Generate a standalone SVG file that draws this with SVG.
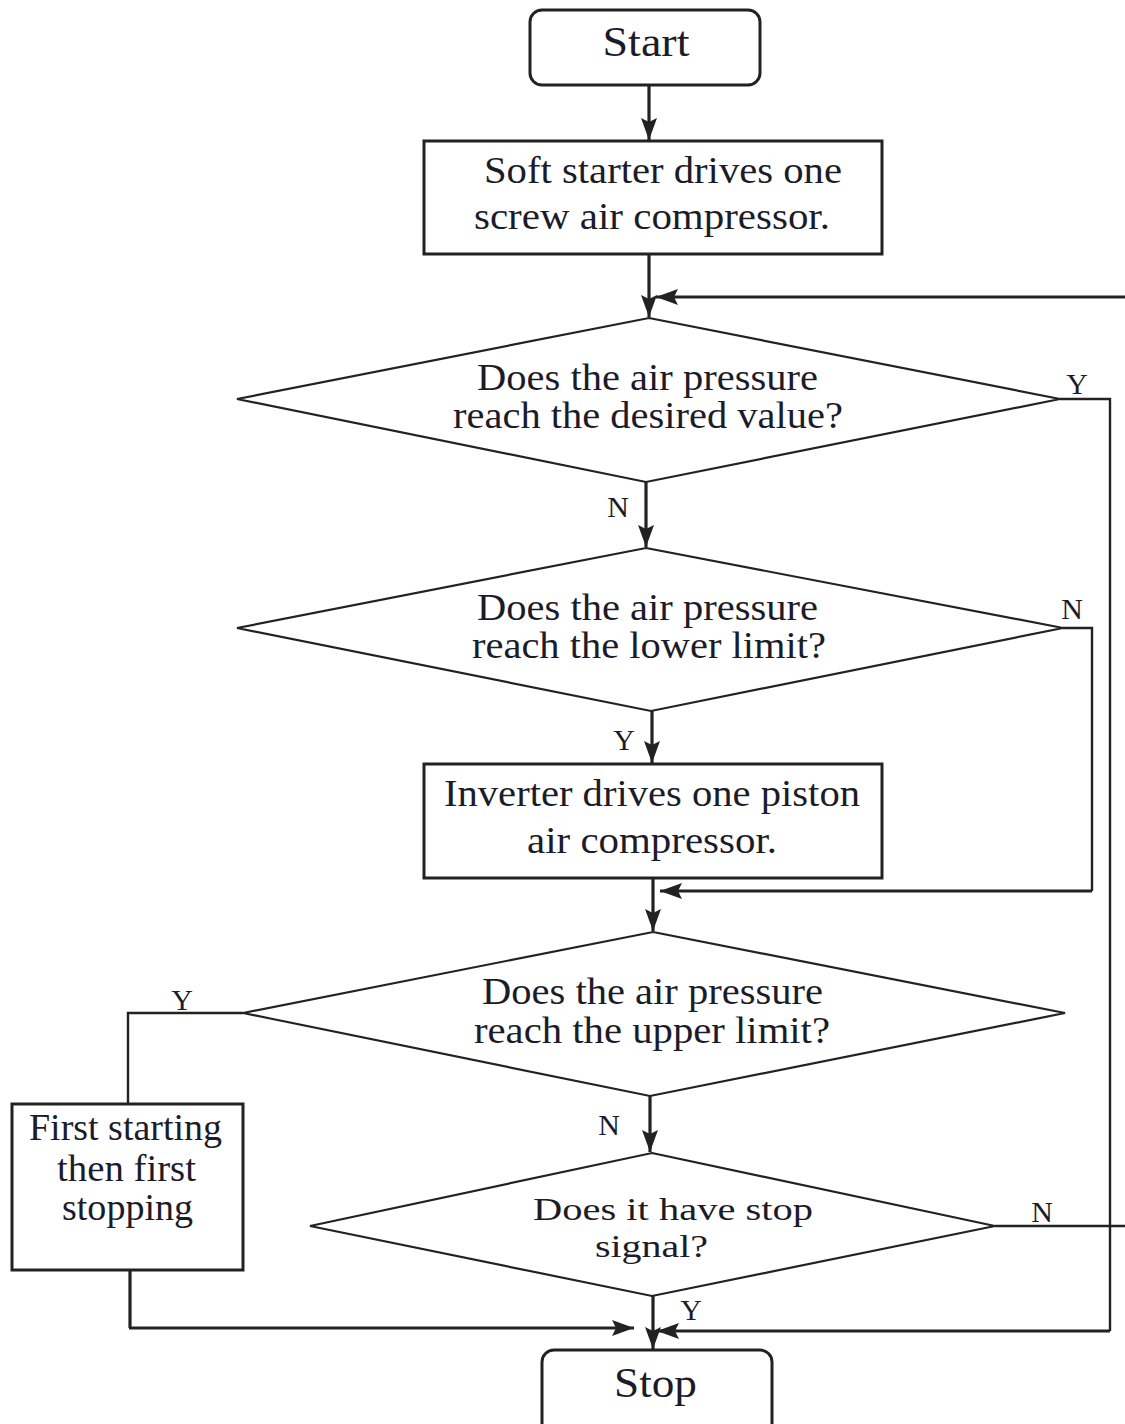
<svg xmlns="http://www.w3.org/2000/svg" width="1125" height="1424" viewBox="0 0 1125 1424">
<style>
.box{fill:#fff;stroke:#222;stroke-width:3}
.dia{fill:#fff;stroke:#222;stroke-width:2.2}
.t{font-family:"Liberation Serif","Times New Roman",serif;font-size:38px;fill:#1c1c28;text-anchor:middle}
.tb{font-size:42px}
.ts{font-size:32px}
.lb{font-family:"Liberation Serif","Times New Roman",serif;font-size:30px;fill:#1c1c28;text-anchor:middle}
.c{fill:none;stroke:#222;stroke-width:3.2}
.c2{fill:none;stroke:#222;stroke-width:2.4}
</style>
<defs>
<marker id="ah" viewBox="0 0 22 16" refX="22" refY="8" markerWidth="22" markerHeight="16" markerUnits="userSpaceOnUse" orient="auto"><path d="M0,0 L22,8 L0,16 L4,8 z" fill="#222"/></marker>
</defs>
<rect width="1125" height="1424" fill="#fff"/>
<g id="connectors">
<line class="c" x1="649" y1="85" x2="649" y2="140" marker-end="url(#ah)"/>
<line class="c" x1="649" y1="254" x2="649" y2="317" marker-end="url(#ah)"/>
<line class="c" x1="1125" y1="297" x2="656" y2="297" marker-end="url(#ah)"/>
<polyline class="c2" points="1060,399 1110,399 1110,1331"/>
<line class="c" x1="1110" y1="1331" x2="657" y2="1331" marker-end="url(#ah)"/>
<line class="c" x1="646" y1="482" x2="646" y2="547" marker-end="url(#ah)"/>
<polyline class="c2" points="1063,628 1092,628 1092,891"/>
<line class="c" x1="1092" y1="891" x2="660" y2="891" marker-end="url(#ah)"/>
<line class="c" x1="652" y1="711" x2="652" y2="763" marker-end="url(#ah)"/>
<line class="c" x1="653" y1="878" x2="653" y2="931" marker-end="url(#ah)"/>
<polyline class="c2" points="243,1013 128,1013 128,1104"/>
<polyline class="c" points="130,1270 130,1328"/>
<line class="c" x1="129" y1="1328" x2="634" y2="1328" marker-end="url(#ah)"/>
<line class="c" x1="650" y1="1096" x2="650" y2="1152" marker-end="url(#ah)"/>
<line class="c2" x1="995" y1="1226" x2="1125" y2="1226"/>
<line class="c" x1="653" y1="1296" x2="653" y2="1349" marker-end="url(#ah)"/>
<text class="lb" x="1077" y="394">Y</text>
<text class="lb" x="618" y="517">N</text>
<text class="lb" x="1072" y="619">N</text>
<text class="lb" x="624" y="750">Y</text>
<text class="lb" x="182" y="1010">Y</text>
<text class="lb" x="609" y="1135">N</text>
<text class="lb" x="1042" y="1222">N</text>
<text class="lb" x="691" y="1320">Y</text>
</g>
<g id="start">
<rect class="box" x="530" y="10" width="230" height="75" rx="12"/>
<text class="t tb" x="646" y="56" textLength="87" lengthAdjust="spacingAndGlyphs">Start</text>
</g>
<g id="soft-starter">
<rect class="box" x="424" y="141" width="458" height="113"/>
<text class="t" x="663" y="183" textLength="358" lengthAdjust="spacingAndGlyphs">Soft starter drives one</text>
<text class="t" x="652" y="229" textLength="356" lengthAdjust="spacingAndGlyphs">screw air compressor.</text>
</g>
<g id="desired-value">
<polygon class="dia" points="649,318 1060,399 646,482 237,399"/>
<text class="t" x="647.5" y="390" textLength="341" lengthAdjust="spacingAndGlyphs">Does the air pressure</text>
<text class="t" x="648" y="428" textLength="390" lengthAdjust="spacingAndGlyphs">reach the desired value?</text>
</g>
<g id="lower-limit">
<polygon class="dia" points="646,548 1063,628 651,711 237,628"/>
<text class="t" x="647.5" y="620" textLength="341" lengthAdjust="spacingAndGlyphs">Does the air pressure</text>
<text class="t" x="649" y="658" textLength="354" lengthAdjust="spacingAndGlyphs">reach the lower limit?</text>
</g>
<g id="inverter">
<rect class="box" x="424" y="764" width="458" height="114"/>
<text class="t" x="652" y="806" textLength="416" lengthAdjust="spacingAndGlyphs">Inverter drives one piston</text>
<text class="t" x="652" y="853" textLength="250" lengthAdjust="spacingAndGlyphs">air compressor.</text>
</g>
<g id="upper-limit">
<polygon class="dia" points="653,932 1065,1013 650,1096 243,1013"/>
<text class="t" x="652.5" y="1004" textLength="341" lengthAdjust="spacingAndGlyphs">Does the air pressure</text>
<text class="t" x="652" y="1043" textLength="356" lengthAdjust="spacingAndGlyphs">reach the upper limit?</text>
</g>
<g id="first-start-first-stop">
<rect class="box" x="12" y="1104" width="231" height="166"/>
<text class="t" x="125.5" y="1140" textLength="193" lengthAdjust="spacingAndGlyphs">First starting</text>
<text class="t" x="126.5" y="1181" textLength="139" lengthAdjust="spacingAndGlyphs">then first</text>
<text class="t" x="127.5" y="1220" textLength="131" lengthAdjust="spacingAndGlyphs">stopping</text>
</g>
<g id="stop-signal">
<polygon class="dia" points="652,1153 995,1226 652,1296 310,1226"/>
<text class="t ts" x="673" y="1220" textLength="280" lengthAdjust="spacingAndGlyphs">Does it have stop</text>
<text class="t ts" x="651.5" y="1257" textLength="113" lengthAdjust="spacingAndGlyphs">signal?</text>
</g>
<g id="stop">
<rect class="box" x="542" y="1350" width="230" height="85" rx="12"/>
<text class="t tb" x="655.5" y="1397" textLength="83" lengthAdjust="spacingAndGlyphs">Stop</text>
</g>
</svg>
